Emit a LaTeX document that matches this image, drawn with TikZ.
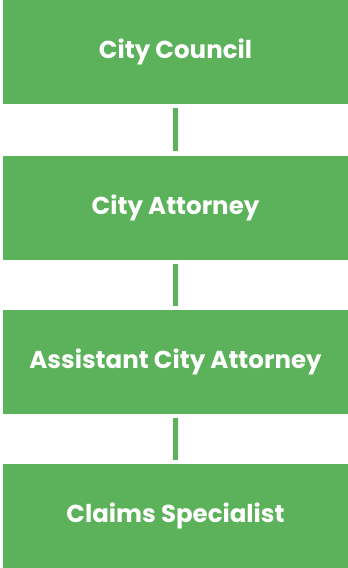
\documentclass[tikz,border=0pt]{standalone}
\usepackage{fontspec}
\setmainfont{Poppins}
\definecolor{boxgreen}{RGB}{92,178,90}

\begin{document}
\begin{tikzpicture}[x=1pt,y=1pt,
    box/.style={fill=boxgreen, minimum width=345pt, minimum height=104pt,
        inner sep=0pt, text=white, font=\fontsize{24.5}{28}\selectfont\bfseries},
    link/.style={draw=boxgreen, line width=5pt, shorten <=4pt, shorten >=4pt}]

    \useasboundingbox (0,0) rectangle (348,-568);

    \node[box] (council) at (175.5,-52) {City Council};
    \node[box] (attorney) at (175.5,-207.5) {City Attorney};
    \node[box] (assistant) at (175.5,-362) {Assistant City Attorney};
    \node[box] (claims) at (175.5,-516) {Claims Specialist};

    \draw[link] (council) -- (attorney);
    \draw[link] (attorney) -- (assistant);
    \draw[link] (assistant) -- (claims);

\end{tikzpicture}
\end{document}
